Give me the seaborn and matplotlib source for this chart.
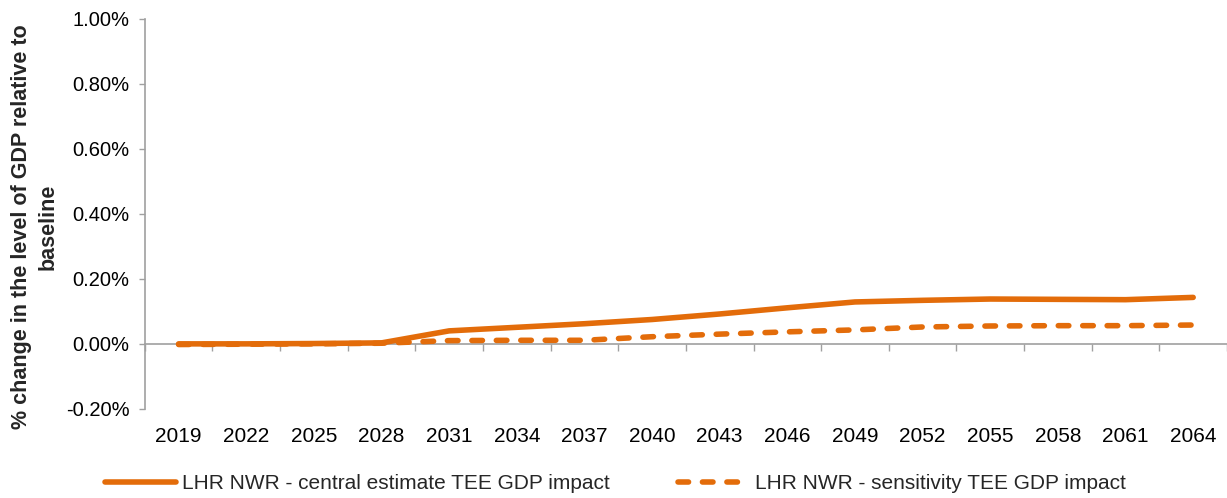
import matplotlib
matplotlib.use("Agg")
import matplotlib.pyplot as plt
import seaborn as sns
import pandas as pd
import numpy as np
from matplotlib.ticker import FuncFormatter

years = [2019, 2022, 2025, 2028, 2031, 2034, 2037, 2040, 2043, 2046, 2049, 2052, 2055, 2058, 2061, 2064]
central = [0.000, 0.000, 0.001, 0.003, 0.040, 0.051, 0.062, 0.075, 0.092, 0.111, 0.129, 0.134, 0.138, 0.137, 0.136, 0.143]
sensitivity = [-0.002, -0.001, 0.000, 0.002, 0.010, 0.011, 0.011, 0.022, 0.030, 0.037, 0.043, 0.052, 0.055, 0.056, 0.056, 0.058]
series_names = ["LHR NWR - central estimate TEE GDP impact", "LHR NWR - sensitivity TEE GDP impact"]
y_ticks = [-0.2, 0.0, 0.2, 0.4, 0.6, 0.8, 1.0]
y_label = "% change in the level of GDP relative to\nbaseline"

sns.set_theme(style="white")
plt.rcParams['font.family'] = ['Liberation Sans', 'DejaVu Sans']

df = pd.DataFrame({
    "idx": list(range(len(years))) * 2,
    "value": central + sensitivity,
    "series": [series_names[0]] * len(years) + [series_names[1]] * len(years),
})

orange = "#E36C0A"
fig = plt.figure(figsize=(12.27, 4.98), dpi=100)
ax = fig.add_axes([0.118, 0.179, 0.882, 0.783])

sns.lineplot(data=df, x="idx", y="value", hue="series", style="series",
             palette=[orange, orange], dashes=["", (1.9, 2.5)],
             linewidth=4.0, ax=ax, legend=True)
for ln in ax.lines:
    ln.set_dash_capstyle('round')
    ln.set_solid_capstyle('round')

ax.set_xlim(-0.5, len(years) - 0.5)
ax.set_ylim(y_ticks[0], y_ticks[-1])
ax.set_yticks(y_ticks)
ax.yaxis.set_major_formatter(FuncFormatter(lambda v, p: f"{v:.2f}%"))
ax.set_xticks(range(len(years)))
ax.set_xticklabels([str(y) for y in years])
ax.tick_params(axis='x', length=0, labelsize=15, colors='black', pad=13)
ax.tick_params(axis='y', length=4, width=1, color='#A0A0A0', labelsize=14.5, labelcolor='black', left=True, pad=7)
for s in ["top", "right", "bottom"]:
    ax.spines[s].set_visible(False)
ax.spines["left"].set_color('#A0A0A0')
ax.spines["left"].set_linewidth(1.2)
ax.set_xlabel("")
ax.set_ylabel(y_label, fontsize=15.5, fontweight='bold', linespacing=1.3)
ax.yaxis.set_label_coords(-0.080, 0.467)

# zero axis with category-boundary ticks
zero_frac = (0 - y_ticks[0]) / (y_ticks[-1] - y_ticks[0])
sec = ax.secondary_xaxis(zero_frac)
sec.set_xticks(np.arange(-0.5, len(years) + 0.5, 1.0))
sec.set_xticklabels([])
sec.tick_params(axis='x', length=5, width=1, color='#A0A0A0', direction='out')
sec.spines['bottom'].set_color('#A0A0A0')
sec.spines['bottom'].set_linewidth(1.2)
for s in ["top", "left", "right"]:
    if s in sec.spines:
        sec.spines[s].set_visible(False)

handles, labels = ax.get_legend_handles_labels()
ax.legend(handles, labels, loc='upper center', bbox_to_anchor=(0.435, -0.12), ncol=2,
          frameon=False, fontsize=15, handlelength=3.4, columnspacing=3.3, handletextpad=0.3)

fig.savefig("out.png", dpi=100)
